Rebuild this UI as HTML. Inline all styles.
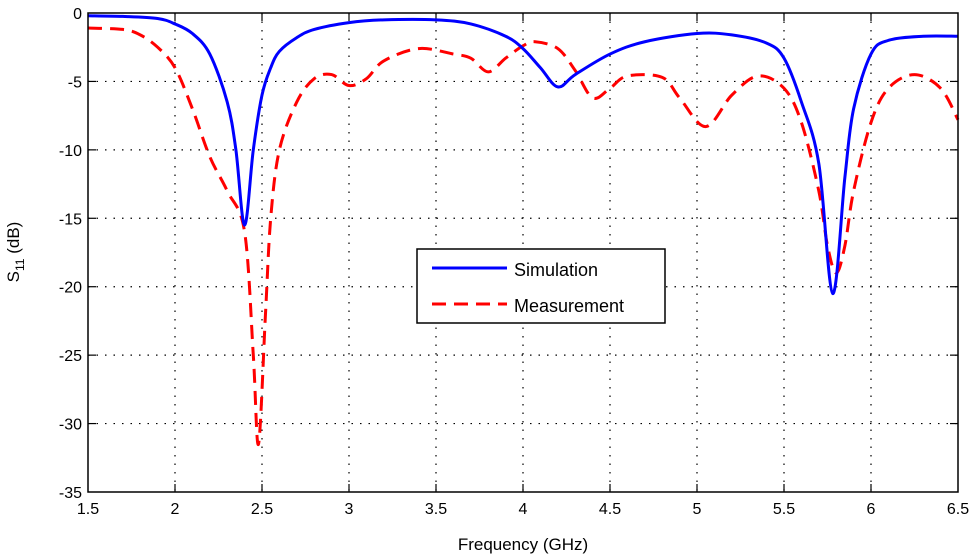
<!DOCTYPE html>
<html><head><meta charset="utf-8"><style>
body{margin:0;background:#fff;}
svg{display:block;font-family:"Liberation Sans",Arial,sans-serif;}
</style></head><body>
<svg id="chart" width="974" height="555" viewBox="0 0 974 555" xmlns="http://www.w3.org/2000/svg">
<rect x="0" y="0" width="974" height="555" fill="#fff"/>
<g id="grid"></g>
<g id="ticks" font-size="16" fill="#000"></g>
<g id="series"></g>
<rect x="88" y="13" width="870" height="479" fill="none" stroke="#000" stroke-width="1.5"/>
<text x="523" y="550" font-size="17" text-anchor="middle">Frequency (GHz)</text>
<text transform="translate(19,252) rotate(-90)" font-size="17" text-anchor="middle">S<tspan font-size="12" dy="5">11</tspan><tspan dy="-5"> (dB)</tspan></text>
<g>
<rect x="417" y="249" width="248" height="74" fill="#fff" stroke="#000" stroke-width="1.5"/>
<line x1="432" y1="268" x2="507" y2="268" stroke="#0000ff" stroke-width="3"/>
<text x="514" y="276" font-size="18">Simulation</text>
<line x1="432" y1="304" x2="507" y2="304" stroke="#ff0000" stroke-width="3" stroke-dasharray="14,8"/>
<text x="514" y="312" font-size="18">Measurement</text>
</g>
</svg>
<script>
const xTicks=[1.5,2,2.5,3,3.5,4,4.5,5,5.5,6,6.5];
const yTicks=[0,-5,-10,-15,-20,-25,-30,-35];
const simFreq=[1.5,1.7,1.9,2.0,2.1,2.2,2.3,2.35,2.4,2.45,2.5,2.55,2.6,2.7,2.8,3.0,3.2,3.5,3.7,3.9,4.0,4.1,4.2,4.3,4.5,4.7,5.0,5.2,5.4,5.5,5.6,5.7,5.78,5.85,5.9,6.0,6.1,6.3,6.5];
const simDb=[-0.2,-0.25,-0.4,-0.8,-1.5,-3,-6.5,-10,-15.5,-10,-6,-4,-2.8,-1.8,-1.2,-0.7,-0.5,-0.5,-0.8,-1.7,-2.6,-4,-5.4,-4.5,-3,-2.1,-1.5,-1.6,-2.2,-3.3,-6.5,-11,-20.5,-12,-7,-3,-2,-1.7,-1.7];
const measFreq=[1.5,1.7,1.8,1.9,2.0,2.1,2.2,2.3,2.4,2.45,2.48,2.52,2.55,2.6,2.7,2.8,2.9,3.0,3.1,3.2,3.4,3.6,3.7,3.8,3.9,4.0,4.07,4.2,4.3,4.4,4.5,4.6,4.8,4.9,5.05,5.2,5.35,5.5,5.6,5.7,5.75,5.8,5.85,5.9,6.0,6.1,6.25,6.4,6.5];
const measDb=[-1.1,-1.2,-1.6,-2.5,-4,-7,-10.5,-13,-16,-25,-31.5,-22,-15,-10,-6.5,-4.8,-4.5,-5.3,-4.8,-3.5,-2.6,-3,-3.3,-4.3,-3.3,-2.4,-2.1,-2.6,-4.2,-6.2,-5.5,-4.6,-4.7,-6.2,-8.3,-6,-4.6,-5.5,-8,-13,-17,-19,-17,-13,-8,-5.5,-4.5,-5.5,-7.8];

const L=88,R=958,T=13,B=492;
function xs(v){return L+(v-1.5)/(6.5-1.5)*(R-L);}
function ys(v){return T+(0-v)/35*(B-T);}
const NS="http://www.w3.org/2000/svg";
const grid=document.getElementById('grid'),ticks=document.getElementById('ticks'),series=document.getElementById('series');
function seg(x1,y1,x2,y2){const l=document.createElementNS(NS,'line');
  l.setAttribute('x1',x1);l.setAttribute('x2',x2);l.setAttribute('y1',y1);l.setAttribute('y2',y2);
  l.setAttribute('stroke','#000');l.setAttribute('stroke-width','1.2');return l;}
xTicks.forEach(v=>{
  const x=xs(v);
  if(v>1.5&&v<6.5){const l=seg(x,T,x,B);
  
  
  l.setAttribute('stroke-dasharray','1.5,7');grid.appendChild(l);
  const a=seg(x,B,x,B-8);
  
  
  grid.appendChild(a);
  const b=seg(x,T,x,T+8);
  
  
  grid.appendChild(b);}
  const t=document.createElementNS(NS,'text');
  
  
  t.setAttribute('x',x);t.setAttribute('y',B+22);t.setAttribute('text-anchor','middle');t.textContent=v;ticks.appendChild(t);
});
yTicks.forEach(v=>{
  const y=ys(v);
  if(v<0&&v>-35){const l=seg(L,y,R,y);
  
  
  l.setAttribute('stroke-dasharray','1.5,7');grid.appendChild(l);
  const a=seg(L,y,L+8,y);
  
  
  grid.appendChild(a);
  const b=seg(R,y,R-8,y);
  
  
  grid.appendChild(b);}
  const t=document.createElementNS(NS,'text');
  
  
  t.setAttribute('x',L-6);t.setAttribute('y',y+6);t.setAttribute('text-anchor','end');t.textContent=v;ticks.appendChild(t);
});
function smoothPath(fx,fy){
  const p=fx.map((f,i)=>[xs(f),ys(fy[i])]);
  let d='M'+p[0][0]+','+p[0][1];
  for(let i=0;i<p.length-1;i++){
    const p0=p[i-1]||p[i],p1=p[i],p2=p[i+1],p3=p[i+2]||p2;
    const c1=[p1[0]+(p2[0]-p0[0])/6,p1[1]+(p2[1]-p0[1])/6];
    const c2=[p2[0]-(p3[0]-p1[0])/6,p2[1]-(p3[1]-p1[1])/6];
    d+=' C'+c1[0]+','+c1[1]+' '+c2[0]+','+c2[1]+' '+p2[0]+','+p2[1];
  }
  return d;
}
const sim=document.createElementNS(NS,'path');


sim.setAttribute('d',smoothPath(simFreq,simDb));sim.setAttribute('fill','none');sim.setAttribute('stroke','#0000ff');sim.setAttribute('stroke-width','3');
const meas=document.createElementNS(NS,'path');


meas.setAttribute('d',smoothPath(measFreq,measDb));meas.setAttribute('fill','none');meas.setAttribute('stroke','#ff0000');meas.setAttribute('stroke-width','3');meas.setAttribute('stroke-dasharray','14,8');
series.appendChild(meas);series.appendChild(sim);
</script>
</body></html>
